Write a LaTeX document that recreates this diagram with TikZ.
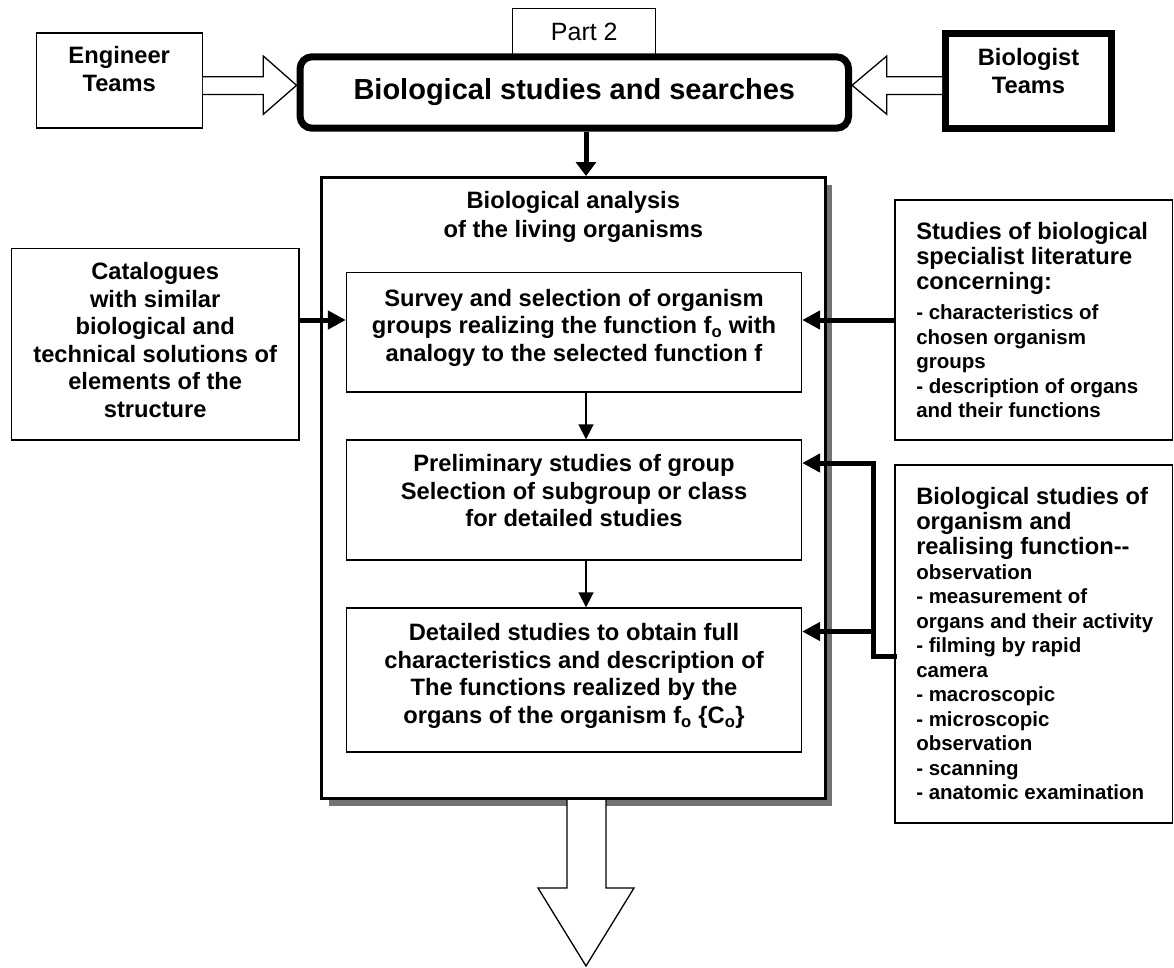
\documentclass[tikz,border=0pt]{standalone}
\usepackage{fontspec}
\setmainfont{Liberation Sans}
\usetikzlibrary{arrows.meta,shadows}

\newcommand\headfont{\fontsize{23.7}{25}\selectfont}
\newcommand\itemfont{\fontsize{20.5}{24.5}\selectfont}
\newcommand\dropline[1]{\rule[-#1]{0pt}{0pt}}

\begin{document}
\begin{tikzpicture}[x=1pt,y=-1pt,
		box/.style={draw,line width=1.3pt,fill=white,align=center,inner sep=0pt,font=\bfseries\fontsize{23.7}{27.5}\selectfont},
		teambox/.style={box,minimum width=166pt,minimum height=95pt},
		stepbox/.style={box,minimum width=455pt},
		infobox/.style={draw,line width=1.3pt,fill=white,align=flush left,text width=262pt,inner xsep=7.75pt,inner ysep=0pt,minimum width=277.5pt,font=\bfseries\itemfont},
		flow/.style={line width=1.6pt,-{Triangle[length=15pt,width=15pt]}},
		feed/.style={line width=5pt,-{Triangle[length=18pt,width=18pt]}},
		hollow/.style={draw,line width=1.3pt,fill=white,line join=miter}]
		\useasboundingbox (0,0) rectangle (1174,967);
		%
		\node[box,font=\fontsize{25}{28}\selectfont,minimum width=143pt,minimum height=47pt] (part) at (584.3,32) {Part 2};
		\node[box,line width=7pt,rounded corners=12pt,minimum width=548.5pt,minimum height=71.4pt,font=\bfseries\fontsize{29}{32}\selectfont] (main) at (574.3,92.5) {Biological studies and searches};
		\node[teambox] (eng) at (119.2,80.5) {Engineer\\Teams\dropline{23pt}};
		\node[teambox,line width=7pt] (bio) at (1028.5,80.5) {Biologist\\Teams\dropline{19pt}};
		%
		\node[draw,line width=3pt,fill=white,minimum width=503.5pt,minimum height=621pt,drop shadow={shadow xshift=7pt,shadow yshift=-7pt,fill=black!55,opacity=1}] (big) at (573.25,488) {};
		\node[align=center,font=\bfseries\fontsize{23.7}{29}\selectfont] (bigtitle) at (573.3,217) {Biological analysis\\of the living organisms};
		\node[stepbox,minimum height=119.3pt] (survey) at (574,332.4) {Survey and selection of organism\\groups realizing the function f\textsubscript{o} with\\analogy to the selected function f\dropline{14pt}};
		\node[stepbox,minimum height=120pt] (prelim) at (574,500) {Preliminary studies of group\\Selection of subgroup or class\\for detailed studies\dropline{19pt}};
		\node[stepbox,minimum height=144pt] (detail) at (574,680) {Detailed studies to obtain full\\characteristics and description of\\The functions realized by the\\organs of the organism f\textsubscript{o} \{C\textsubscript{o}\}\dropline{13pt}};
		%
		\node[box,minimum width=287.4pt,minimum height=191.7pt] (cat) at (155.2,344.2) {Catalogues\\with similar\\biological and\\technical solutions of\\elements of the\\structure\dropline{9pt}};
		\node[infobox,minimum height=240pt] (studies) at (1033.75,320) {\leftskip=13.5pt\headfont Studies of biological\\specialist literature\\concerning:\par\vspace{6pt}\itemfont - characteristics of\\chosen organism\\groups\\- description of organs\\and their functions\par};
		\node[infobox,minimum height=358pt] (biost) at (1033.75,644) {\leftskip=13.5pt\headfont Biological studies of\\organism and\\realising function-{}-\par\itemfont observation\\- measurement of\\organs and their activity\\- filming by rapid\\camera\\- macroscopic\\- microscopic\\observation\\- scanning\\- anatomic examination\par};
		%
		\coordinate (col) at (586,0);
		\coordinate (ysurv) at (0,320);
		\coordinate (trunk) at (873,463);
		\coordinate (ydet) at (0,631.5);
		\coordinate (ystub) at (0,656.7);
		\coordinate (ya) at (0,76.7);
		\coordinate (yb) at (0,94.5);
		\coordinate (yt) at (0,85.3);
		%
		\draw[line width=5pt,-{Triangle[length=14pt,width=20pt]}] (main.south -| col) -- (big.north -| col);
		\draw[flow] (survey.south -| col) -- (prelim.north -| col);
		\draw[flow] (prelim.south -| col) -- (detail.north -| col);
		\draw[feed] (cat.east |- ysurv) -- (survey.west |- ysurv);
		\draw[feed] (studies.west |- ysurv) -- (survey.east |- ysurv);
		\draw[line width=5pt,line cap=rect,line join=miter] (biost.west |- ystub) -| (trunk);
		\draw[feed] (trunk) -- (prelim.east |- trunk);
		\draw[feed] (trunk |- ydet) -- (detail.east |- ydet);
		%
		\draw[hollow] (eng.east |- ya) -- (263.3,76.7) -- (263.3,56) -- (main.west |- yt) -- (263.3,114.3) -- (263.3,94.5) -- (eng.east |- yb);
		\draw[hollow] (bio.west |- ya) -- (886.8,76.7) -- (886.8,56) -- (main.east |- yt) -- (886.8,114.3) -- (886.8,94.5) -- (bio.west |- yb);
		\draw[hollow] (big.south -| 567,0) -- (567,888) -- (538,888) -- (586,966) -- (634,888) -- (606,888) -- (big.south -| 606,0);
	\end{tikzpicture}
\end{document}
